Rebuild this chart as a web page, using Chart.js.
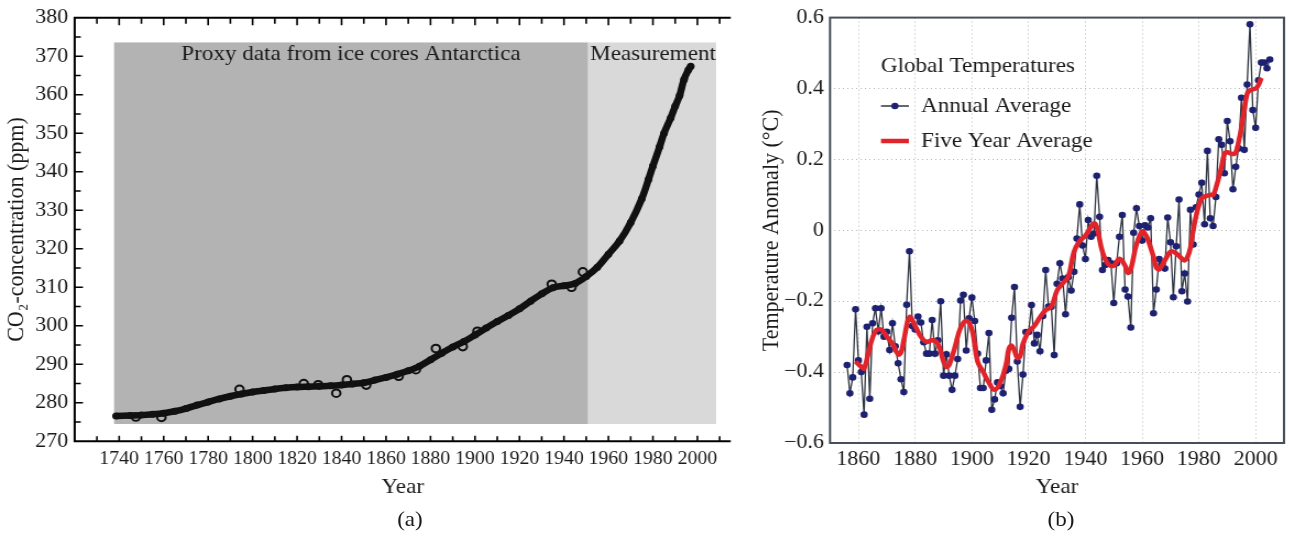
<!DOCTYPE html>
<html>
<head>
<meta charset="utf-8">
<script src="https://cdn.jsdelivr.net/npm/chart.js@4.4.1/dist/chart.umd.min.js"></script>
<style>
html,body{margin:0;padding:0;background:#fff;width:1289px;height:536px;overflow:hidden;}
.wrap{position:absolute;top:0;transform-origin:0 0;transform:scaleX(1.1);}
#wa{left:0;}
#wb{left:745px;}
.cap{position:absolute;font-family:"Liberation Serif","Times New Roman",serif;font-size:21px;color:#1a1a1a;transform:translate(-50%,-50%) scaleX(1.1);white-space:nowrap;}
</style>
</head>
<body>
<div class="wrap" id="wa"><canvas id="ca" width="672" height="536" style="width:672px;height:536px"></canvas></div>
<div class="wrap" id="wb"><canvas id="cb" width="494" height="536" style="width:494px;height:536px"></canvas></div>
<div class="cap" style="left:410px;top:519px">(a)</div>
<div class="cap" style="left:1061px;top:519px">(b)</div>
<script>
const FONT = "'Liberation Serif','Times New Roman',serif";
Chart.defaults.font.family = FONT;

// ---------- Panel (a): CO2 concentration ----------
const co2Years = [1738.6,1745,1750,1755,1760,1765,1770,1775,1780,1785,1790,1795,1800,1805,1810,1815,1820,1825,1830,1835,1840,1845,1850,1855,1860,1865,1870,1875,1880,1885,1890,1895,1900,1905,1910,1915,1920,1925,1930,1935,1940,1945,1950,1955,1960,1965,1970,1975,1978,1980,1983,1985,1988,1990,1992,1994,1996,1997];
const co2Ppm = [276.6,276.7,276.8,277.0,277.3,277.8,278.5,279.4,280.2,281.0,281.7,282.3,282.8,283.2,283.6,283.9,284.1,284.2,284.3,284.4,284.6,284.9,285.2,285.9,286.6,287.4,288.3,289.5,291.2,292.9,294.5,295.9,297.6,299.4,301.1,302.7,304.4,306.4,308.3,309.9,310.4,311.0,312.8,315.2,318.6,322.0,326.8,333.0,338.0,341.5,346.5,350.0,354.0,357.0,359.8,364.0,366.5,367.4];
const co2OutlierYears = [1747.5,1759,1794.1,1823,1829.5,1837.6,1842.4,1851.1,1865.7,1873.4,1882.4,1894.5,1901.1,1934.5,1943.4,1948.5];
const co2OutlierPpm = [276.3,276.2,283.5,285.0,284.7,282.5,286.0,284.6,286.9,288.6,294.1,294.6,298.6,310.8,310.0,314.0];
const co2YearTicks = [1740,1760,1780,1800,1820,1840,1860,1880,1900,1920,1940,1960,1980,2000];
const co2PpmTicks = [270,280,290,300,310,320,330,340,350,360,370,380];
const proxyPeriod = [1737.7, 1950.8];
const measurementPeriod = [1950.8, 2008.4];
const shadedPpmRange = [274.5, 373.6];
const proxyLabel = 'Proxy data from ice cores Antarctica';
const measurementLabel = 'Measurement';

// ---------- Panel (b): Global temperatures ----------
const tempYears = [1856,1857,1858,1859,1860,1861,1862,1863,1864,1865,1866,1867,1868,1869,1870,1871,1872,1873,1874,1875,1876,1877,1878,1879,1880,1881,1882,1883,1884,1885,1886,1887,1888,1889,1890,1891,1892,1893,1894,1895,1896,1897,1898,1899,1900,1901,1902,1903,1904,1905,1906,1907,1908,1909,1910,1911,1912,1913,1914,1915,1916,1917,1918,1919,1920,1921,1922,1923,1924,1925,1926,1927,1928,1929,1930,1931,1932,1933,1934,1935,1936,1937,1938,1939,1940,1941,1942,1943,1944,1945,1946,1947,1948,1949,1950,1951,1952,1953,1954,1955,1956,1957,1958,1959,1960,1961,1962,1963,1964,1965,1966,1967,1968,1969,1970,1971,1972,1973,1974,1975,1976,1977,1978,1979,1980,1981,1982,1983,1984,1985,1986,1987,1988,1989,1990,1991,1992,1993,1994,1995,1996,1997,1998,1999,2000,2001,2002,2003,2004,2005];
const annualAnomaly = [-0.38,-0.46,-0.415,-0.223,-0.367,-0.40,-0.52,-0.272,-0.475,-0.262,-0.22,-0.285,-0.22,-0.30,-0.286,-0.338,-0.262,-0.327,-0.375,-0.42,-0.456,-0.21,-0.059,-0.27,-0.28,-0.243,-0.26,-0.316,-0.348,-0.348,-0.253,-0.348,-0.31,-0.20,-0.41,-0.35,-0.41,-0.45,-0.41,-0.363,-0.198,-0.182,-0.339,-0.248,-0.19,-0.256,-0.348,-0.445,-0.445,-0.367,-0.29,-0.506,-0.477,-0.429,-0.439,-0.46,-0.396,-0.391,-0.247,-0.16,-0.37,-0.498,-0.407,-0.287,-0.287,-0.211,-0.319,-0.295,-0.341,-0.242,-0.112,-0.215,-0.216,-0.352,-0.151,-0.093,-0.136,-0.237,-0.132,-0.17,-0.117,-0.023,0.073,-0.043,-0.081,0.029,-0.018,-0.009,0.154,0.038,-0.112,-0.098,-0.084,-0.093,-0.205,-0.093,-0.018,0.043,-0.167,-0.187,-0.274,-0.007,0.062,0.012,-0.029,0.014,0.008,0.034,-0.234,-0.167,-0.081,-0.095,-0.108,0.036,-0.034,-0.189,-0.045,0.087,-0.172,-0.122,-0.201,0.058,-0.04,0.065,0.101,0.134,0.017,0.224,0.034,0.012,0.094,0.257,0.241,0.161,0.308,0.251,0.116,0.179,0.231,0.374,0.227,0.411,0.581,0.339,0.289,0.423,0.473,0.473,0.457,0.482];
const fiveYearYears = [1859,1861,1862,1864,1866,1868,1870,1872,1874,1875,1876,1878,1880,1882,1884,1886,1888,1890,1891,1892,1894,1896,1898,1900,1902,1904,1906,1908,1910,1912,1913,1914,1915,1916,1917,1918,1920,1922,1924,1926,1928,1930,1932,1934,1936,1938,1940,1942,1943,1944,1946,1948,1950,1952,1954,1955,1956,1958,1960,1961,1962,1964,1965,1966,1968,1970,1972,1974,1975,1976,1977,1978,1979,1980,1981,1982,1984,1985,1986,1988,1989,1990,1992,1993,1994,1995,1996,1997,1998,2000,2001,2002];
const fiveYearAnomaly = [-0.37,-0.385,-0.39,-0.33,-0.285,-0.28,-0.30,-0.32,-0.35,-0.345,-0.31,-0.245,-0.27,-0.30,-0.315,-0.31,-0.32,-0.37,-0.385,-0.38,-0.33,-0.275,-0.255,-0.28,-0.37,-0.40,-0.43,-0.45,-0.43,-0.38,-0.335,-0.325,-0.34,-0.36,-0.355,-0.32,-0.285,-0.27,-0.245,-0.225,-0.215,-0.17,-0.15,-0.13,-0.06,-0.03,-0.015,0.01,0.02,0.01,-0.06,-0.095,-0.10,-0.08,-0.10,-0.12,-0.11,-0.04,-0.003,-0.01,-0.025,-0.075,-0.105,-0.11,-0.085,-0.06,-0.065,-0.08,-0.085,-0.075,-0.05,0.0,0.04,0.07,0.09,0.095,0.10,0.10,0.12,0.18,0.215,0.22,0.215,0.22,0.25,0.29,0.34,0.385,0.395,0.40,0.41,0.43];
const tempYearTicks = [1860,1880,1900,1920,1940,1960,1980,2000];
const tempTicks = [-0.6,-0.4,-0.2,0,0.2,0.4,0.6];
const legendTitle = 'Global Temperatures';
const legendAnnual = 'Annual Average';
const legendFive = 'Five Year Average';

const TXT = '#1a1a1a';

// ---------- plugins for panel (a) ----------
const shadingA = {
  id: 'shadingA',
  beforeDatasetsDraw(chart) {
    const {ctx, scales: {x, y}} = chart;
    const yTop = y.getPixelForValue(shadedPpmRange[1]);
    const yBot = y.getPixelForValue(shadedPpmRange[0]);
    const p0 = x.getPixelForValue(proxyPeriod[0]);
    const p1 = x.getPixelForValue(proxyPeriod[1]);
    const m1 = x.getPixelForValue(measurementPeriod[1]);
    ctx.save();
    ctx.fillStyle = '#d9d9d9';
    ctx.fillRect(p1, yTop, m1 - p1, yBot - yTop);
    ctx.fillStyle = '#b3b3b3';
    ctx.fillRect(p0, yTop, p1 - p0, yBot - yTop);
    ctx.fillStyle = TXT;
    ctx.font = '21px ' + FONT;
    ctx.textBaseline = 'alphabetic';
    ctx.textAlign = 'center';
    ctx.fillText(proxyLabel, (p0 + p1) / 2, yTop + 17.5);
    ctx.textAlign = 'left';
    ctx.fillText(measurementLabel, p1 + 2, yTop + 18);
    ctx.restore();
  }
};
const frameA = {
  id: 'frameA',
  afterDraw(chart) {
    const {ctx, chartArea: a, scales: {x, y}} = chart;
    ctx.save();
    ctx.strokeStyle = '#000';
    ctx.lineWidth = 2;
    ctx.beginPath();
    ctx.moveTo(a.left, a.top); ctx.lineTo(a.right, a.top);
    ctx.moveTo(a.left, a.top - 1); ctx.lineTo(a.left, a.bottom);
    ctx.lineTo(a.right, a.bottom);
    ctx.stroke();
    ctx.lineWidth = 1.6;
    ctx.beginPath();
    for (let yr = 1730; yr < x.max; yr += 10) {
      const px = x.getPixelForValue(yr);
      const major = co2YearTicks.includes(yr);
      ctx.moveTo(px, a.bottom); ctx.lineTo(px, a.bottom - (major ? 5.5 : 5));
      ctx.moveTo(px, a.top); ctx.lineTo(px, a.top + (major ? 7.5 : 6));
    }
    for (let v = 275; v < 380; v += 5) {
      const py = y.getPixelForValue(v);
      const major = co2PpmTicks.includes(v);
      ctx.moveTo(a.left, py); ctx.lineTo(a.left + (major ? 7.5 : 5.5), py);
    }
    ctx.stroke();
    ctx.restore();
  }
};

new Chart(document.getElementById('ca'), {
  type: 'line',
  data: {
    datasets: [
      {
        label: 'CO2 outliers',
        data: co2OutlierYears.map((yr, i) => ({x: yr, y: co2OutlierPpm[i]})),
        showLine: false,
        pointRadius: 3.8,
        pointBorderWidth: 2,
        pointBorderColor: '#111',
        pointBackgroundColor: 'rgba(0,0,0,0)'
      },
      {
        label: 'CO2',
        data: co2Years.map((yr, i) => ({x: yr, y: co2Ppm[i]})),
        borderColor: '#111',
        borderWidth: 6.5,
        tension: 0.35,
        pointRadius: 3.5,
        pointBorderWidth: 0,
        pointBackgroundColor: '#111'
      }
    ]
  },
  options: {
    responsive: false,
    animation: false,
    devicePixelRatio: 1,
    layout: {padding: {left: 0, right: 7.7, top: 17.5, bottom: 0}},
    plugins: {legend: {display: false}, tooltip: {enabled: false}},
    scales: {
      x: {
        type: 'linear', min: 1720, max: 2015,
        afterBuildTicks: s => { s.ticks = co2YearTicks.map(v => ({value: v})); },
        afterFit: s => { s.height = 536 - 441.3; },
        grid: {display: false, drawTicks: false},
        border: {display: false},
        ticks: {padding: 7, color: TXT, font: {family: FONT, size: 18}, maxRotation: 0, autoSkip: false, callback: v => String(v)},
        title: {display: true, text: 'Year', color: TXT, font: {family: FONT, size: 21}, padding: {top: 0, bottom: 36.4}}
      },
      y: {
        type: 'linear', min: 270, max: 380,
        afterBuildTicks: s => { s.ticks = co2PpmTicks.map(v => ({value: v})); },
        afterFit: s => { s.width = 67.9; },
        grid: {display: false, drawTicks: false},
        border: {display: false},
        ticks: {padding: 5.8, color: TXT, font: {family: FONT, size: 20}, callback: v => String(v)},
        title: {display: true, text: 'CO₂-concentration (ppm)', color: TXT, font: {family: FONT, size: 22}, padding: {top: 1.6, bottom: 0}}
      }
    }
  },
  plugins: [shadingA, frameA]
});

// ---------- plugins for panel (b) ----------
const frameB = {
  id: 'frameB',
  afterDraw(chart) {
    const {ctx, chartArea: a} = chart;
    ctx.save();
    ctx.strokeStyle = '#46505a';
    ctx.lineWidth = 2;
    ctx.strokeRect(a.left, a.top, a.right - a.left, a.bottom - a.top);
    ctx.restore();
  }
};
const legendB = {
  id: 'legendB',
  afterDraw(chart) {
    const {ctx} = chart;
    ctx.save();
    ctx.fillStyle = TXT;
    ctx.font = '21px ' + FONT;
    ctx.textAlign = 'left';
    ctx.textBaseline = 'alphabetic';
    ctx.fillText(legendTitle, 123.6, 71.7);
    ctx.fillText(legendAnnual, 160, 111.5);
    ctx.fillText(legendFive, 160, 147);
    ctx.strokeStyle = '#2f3540';
    ctx.lineWidth = 1.5;
    ctx.beginPath(); ctx.moveTo(123.6, 106); ctx.lineTo(149, 106); ctx.stroke();
    ctx.fillStyle = '#1e2170';
    ctx.beginPath(); ctx.arc(136.3, 106, 3.3, 0, Math.PI * 2); ctx.fill();
    ctx.strokeStyle = '#e0242a';
    ctx.lineWidth = 4.5;
    ctx.beginPath(); ctx.moveTo(123.6, 141); ctx.lineTo(149, 141); ctx.stroke();
    ctx.restore();
  }
};
const fmtTemp = v => v === 0 ? '0' : (v < 0 ? '\u2212' + Math.abs(v).toFixed(1) : v.toFixed(1));

new Chart(document.getElementById('cb'), {
  type: 'line',
  data: {
    datasets: [
      {
        label: legendFive,
        data: fiveYearYears.map((yr, i) => ({x: yr, y: fiveYearAnomaly[i]})),
        borderColor: '#e0242a',
        borderWidth: 4.5,
        tension: 0.4,
        pointRadius: 0
      },
      {
        label: legendAnnual,
        data: tempYears.map((yr, i) => ({x: yr, y: annualAnomaly[i]})),
        borderColor: '#2f3540',
        borderWidth: 1.3,
        tension: 0,
        pointRadius: 3.3,
        pointBorderWidth: 0,
        pointBackgroundColor: '#1e2170'
      }
    ]
  },
  options: {
    responsive: false,
    animation: false,
    devicePixelRatio: 1,
    layout: {padding: {left: 0, right: 1.5, top: 16, bottom: 0}},
    plugins: {legend: {display: false}, tooltip: {enabled: false}},
    scales: {
      x: {
        type: 'linear', min: 1850, max: 2010,
        afterBuildTicks: s => { s.ticks = tempYearTicks.map(v => ({value: v})); },
        afterFit: s => { s.height = 536 - 443; },
        grid: {display: true, drawTicks: false, color: '#b5b5b5', lineWidth: 1},
        border: {display: false, dash: [1, 3]},
        ticks: {padding: 4.5, color: TXT, font: {family: FONT, size: 20}, maxRotation: 0, autoSkip: false, callback: v => String(v)},
        title: {display: true, text: 'Year', color: TXT, font: {family: FONT, size: 21}, padding: {top: 0, bottom: 36.4}}
      },
      y: {
        type: 'linear', min: -0.6, max: 0.6,
        afterBuildTicks: s => { s.ticks = tempTicks.map(v => ({value: v})); },
        afterFit: s => { s.width = 77.3; },
        grid: {display: true, drawTicks: false, color: '#b5b5b5', lineWidth: 1},
        border: {display: false, dash: [1, 3]},
        ticks: {padding: 5.6, color: TXT, font: {family: FONT, size: 20}, callback: v => fmtTemp(v)},
        title: {display: true, text: 'Temperature Anomaly (°C)', color: TXT, font: {family: FONT, size: 22}, padding: {top: 11.3, bottom: 0}}
      }
    }
  },
  plugins: [frameB, legendB]
});
</script>
</body>
</html>
